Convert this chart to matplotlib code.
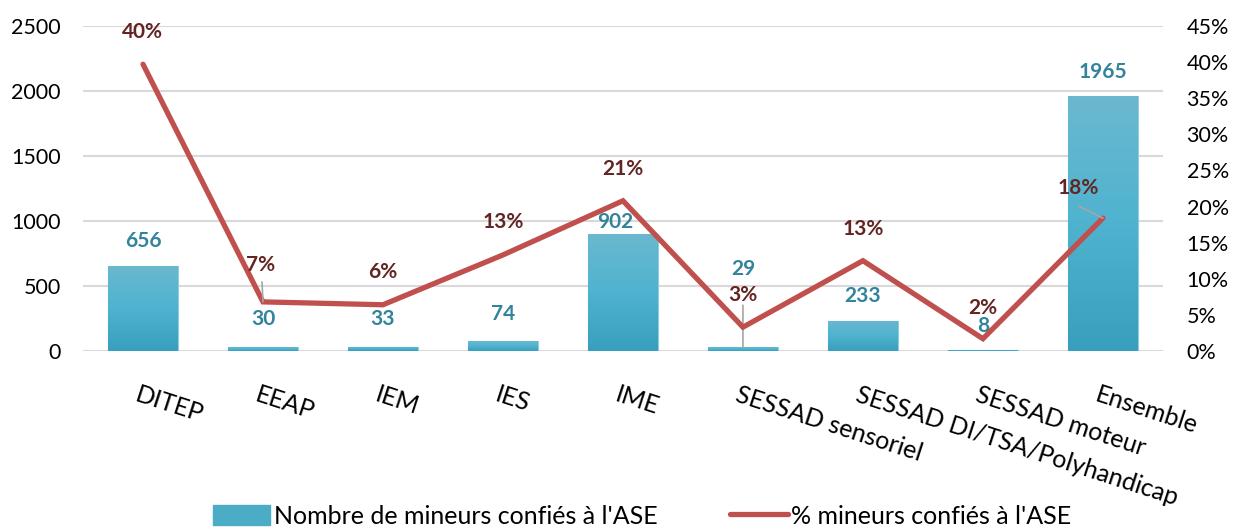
import numpy as np
import matplotlib.pyplot as plt
from matplotlib.lines import Line2D
from matplotlib.patches import Patch
from matplotlib.colors import LinearSegmentedColormap

plt.rcParams['font.family'] = ['Lato', 'DejaVu Sans']

categories = ["DITEP", "EEAP", "IEM", "IES", "IME", "SESSAD sensoriel",
              "SESSAD DI/TSA/Polyhandicap", "SESSAD moteur", "Ensemble"]
counts = [656, 30, 33, 74, 902, 29, 233, 8, 1965]
pct = [0.397, 0.068, 0.064, 0.133, 0.208, 0.033, 0.125, 0.017, 0.184]
pct_labels = ["40%", "7%", "6%", "13%", "21%", "3%", "13%", "2%", "18%"]

# label offsets in pixels (dx, dy) relative to bar top / line point
count_off = [(0, 25), (0, 28), (0, 28), (0, 27), (-8, 12), (0, 78), (0, 25), (0, 24), (0, 24)]
pct_off = [(-1, 32), (-2, 37), (0, 33), (0, 33), (0, 32), (0, 32), (0, 32), (0, 31), (-25, 30)]

bar_col = "#4bacc6"
line_col = "#c0504d"
cnt_txt = "#31849b"
pct_txt = "#632523"
lead_col = "#a6a6a6"

fig = plt.figure(figsize=(12.37, 5.29), dpi=100)
ax = fig.add_axes([0.0671, 0.3365, 0.873, 0.6144])
ax2 = ax.twinx()

x = np.arange(len(categories))
bars = ax.bar(x, counts, width=0.58, color=bar_col, edgecolor="#93cddd", linewidth=0.8, zorder=2)

# vertical gradient fill on bars
grad = np.linspace(0, 1, 100).reshape(-1, 1)
cmap = LinearSegmentedColormap.from_list("g", ["#389fbd", "#4fb3cf", "#6bb8d0"])
for b in bars:
    x0, w, h = b.get_x(), b.get_width(), b.get_height()
    im = ax.imshow(grad, cmap=cmap, aspect="auto", origin="lower",
                   extent=[x0, x0 + w, 0, h], zorder=2.5)
    im.set_clip_path(b)

ax.set_xlim(-0.5, len(categories) - 0.5)
ax.set_ylim(0, 2500)
ax.set_yticks(np.arange(0, 2501, 500))
ax.grid(axis="y", color="#d9d9d9", linewidth=1.5, zorder=0)
ax.set_axisbelow(True)

ax2.plot(x, pct, color=line_col, linewidth=3.8, solid_capstyle="round",
         solid_joinstyle="miter", zorder=3)
ax2.set_ylim(0, 0.45)
ax2.set_yticks(np.arange(0, 0.451, 0.05))
ax2.set_yticklabels([f"{int(round(v * 100))}%" for v in np.arange(0, 0.451, 0.05)])

for a in (ax, ax2):
    for s in a.spines.values():
        s.set_visible(False)
    a.tick_params(length=0, labelsize=15.5, colors="#000000")
ax.tick_params(axis="y", pad=16)
ax2.tick_params(axis="y", pad=17)

ax.set_xticks(x)
ax.set_xticklabels([])
for xi, lab in zip(x, categories):
    ax.annotate(lab, (xi, 0), xytext=(-3, -32), textcoords="offset pixels",
                rotation=-18, rotation_mode="anchor", ha="left", va="top",
                fontsize=18)

# data labels for counts
for i, (xi, v) in enumerate(zip(x, counts)):
    dx, dy = count_off[i]
    ax.annotate(str(v), (xi, v), xytext=(dx, dy), textcoords="offset pixels",
                ha="center", va="center", fontsize=15, fontweight="bold",
                color=cnt_txt, zorder=5)

# leader line from "29" down to its bar
ax.annotate("", (x[5], counts[5]), xytext=(0, 42), textcoords="offset pixels",
            arrowprops=dict(arrowstyle="-", color=lead_col, lw=1.2,
                            shrinkA=0, shrinkB=0), zorder=4)

# data labels for percentages
for i, (xi, v) in enumerate(zip(x, pct)):
    dx, dy = pct_off[i]
    ax2.annotate(pct_labels[i], (xi, v), xytext=(dx, dy), textcoords="offset pixels",
                 ha="center", va="center", fontsize=15, fontweight="bold",
                 color=pct_txt, zorder=5)

# leader lines for 7% and 18%
ax2.annotate("", (x[1], pct[1]), xytext=(-1, 20), textcoords="offset pixels",
             arrowprops=dict(arrowstyle="-", color=lead_col, lw=1.2,
                             shrinkA=0, shrinkB=0), zorder=4)
ax2.annotate("", (x[8], pct[8]), xytext=(-24, 12), textcoords="offset pixels",
             arrowprops=dict(arrowstyle="-", color=lead_col, lw=1.2,
                             shrinkA=0, shrinkB=0), zorder=4)

handles = [Patch(facecolor=bar_col, edgecolor=bar_col),
           Line2D([0], [0], color=line_col, linewidth=3.8, solid_capstyle="round")]
labels = ["Nombre de mineurs confiés à l'ASE", "% mineurs confiés à l'ASE"]
fig.legend(handles, labels, loc="lower center", bbox_to_anchor=(0.519, -0.04),
           ncol=2, frameon=False, fontsize=18, handlelength=2.3, handleheight=0.85,
           handletextpad=0.15, columnspacing=2.9)

fig.savefig("out.png", dpi=100)
